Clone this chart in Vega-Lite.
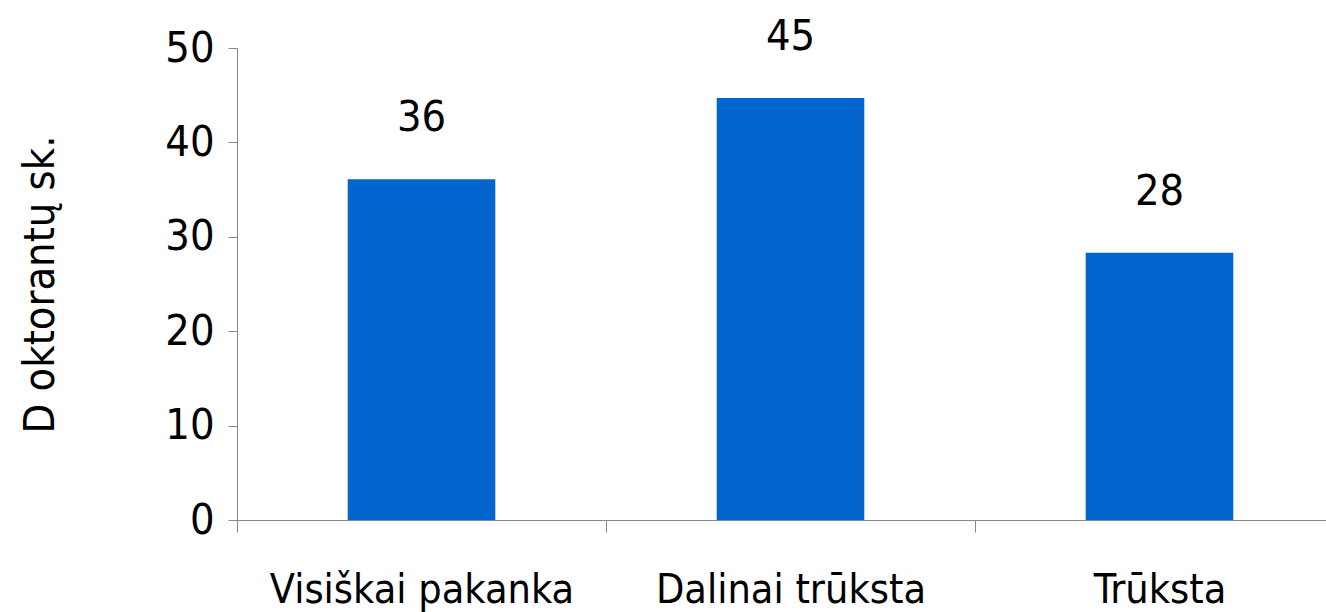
{
  "$schema": "https://vega.github.io/schema/vega-lite/v6.json",
  "autosize": "none",
  "width": 1089,
  "height": 472,
  "padding": {"left": 237, "top": 48, "right": 0, "bottom": 92},
  "background": "white",
  "config": {"view": {"stroke": null}, "font": "DejaVu Sans Condensed, Liberation Sans"},
  "data": {"values": [
    {"category": "Visiškai pakanka", "value": 36.1, "label": 36},
    {"category": "Dalinai trūksta", "value": 44.7, "label": 45},
    {"category": "Trūksta", "value": 28.3, "label": 28}
  ]},
  "encoding": {
    "x": {
      "field": "category", "type": "nominal", "sort": null,
      "scale": {"range": [0, 1107], "paddingInner": 0, "paddingOuter": 0},
      "axis": {
        "title": null, "labelAngle": 0, "labelFontSize": 41, "labelColor": "black", "labelLimit": 0,
        "labelFont": "DejaVu Sans Condensed, Liberation Sans", "labelBaseline": "alphabetic",
        "tickBand": "extent", "tickSize": 12, "tickColor": "#888888", "domainColor": "#888888",
        "labelPadding": 70, "grid": false
      }
    },
    "y": {
      "field": "value", "type": "quantitative",
      "scale": {"domain": [0, 50], "nice": false},
      "axis": {
        "title": "D oktorantų sk.", "values": [0, 10, 20, 30, 40, 50],
        "labelFontSize": 43, "labelColor": "black",
        "labelFont": "DejaVu Sans Condensed, Liberation Sans",
        "tickSize": 9, "tickColor": "#888888", "domainColor": "#888888",
        "labelPadding": 14, "grid": false,
        "titleFontSize": 43, "titleFontWeight": "normal", "titleColor": "black",
        "titleFont": "DejaVu Sans Condensed, Liberation Sans",
        "titleX": -184, "titleY": 236, "titleAngle": -90, "titleBaseline": "alphabetic", "titleAlign": "center"
      }
    }
  },
  "layer": [
    {"mark": {"type": "bar", "color": "#0366cf", "width": {"band": 0.4}}},
    {
      "mark": {"type": "text", "baseline": "alphabetic", "dy": -48, "fontSize": 43, "color": "black",
               "font": "DejaVu Sans Condensed, Liberation Sans"},
      "encoding": {"text": {"field": "label", "type": "quantitative"}}
    }
  ]
}
